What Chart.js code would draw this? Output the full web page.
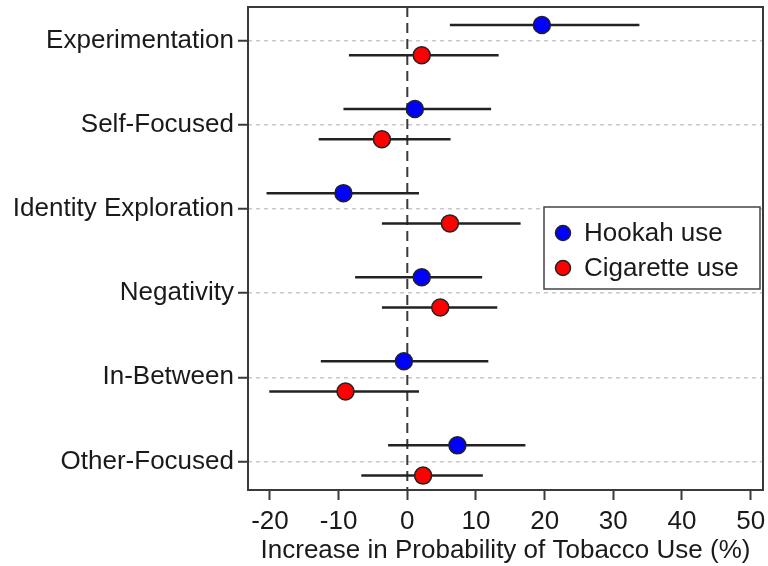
<!DOCTYPE html>
<html>
<head>
<meta charset="utf-8">
<script src="https://cdn.jsdelivr.net/npm/chart.js@4.4.1/dist/chart.umd.min.js"></script>
<style>
    html, body { margin: 0; padding: 0; background: #fff; }
    #wrap { width: 768px; height: 566px; }
</style>
</head>
<body>
<div id="wrap"><canvas id="chart" width="768" height="566"></canvas></div>
<script>
// categories, top to bottom
var categories = ['Experimentation', 'Self-Focused', 'Identity Exploration', 'Negativity', 'In-Between', 'Other-Focused'];

// Hookah use: estimate + 95% CI (%)
var hookahEst  = [19.6,  1.1,  -9.3,  2.1,  -0.5,  7.3];
var hookahLow  = [ 6.2, -9.3, -20.5, -7.6, -12.6, -2.8];
var hookahHigh = [33.8, 12.2,   1.7, 10.9,  11.8, 17.2];

// Cigarette use: estimate + 95% CI (%)
var cigEst  = [ 2.1,  -3.7,  6.2,  4.8,  -9.0,  2.3];
var cigLow  = [-8.5, -12.9, -3.7, -3.7, -20.1, -6.7];
var cigHigh = [13.3,   6.3, 16.5, 13.1,   1.7, 11.0];

var xTicks = [-20, -10, 0, 10, 20, 30, 40, 50];

// vertical offset of each series inside a category row
var HOOKAH_OFF = -0.19;
var CIG_OFF = 0.17;

var FONT = '"Liberation Sans", Arial, sans-serif';

function toPoints(est, off) {
    return est.map(function(v, i) { return { x: v, y: i + off }; });
}

// zero reference line
var zeroLine = {
    id: 'zeroLine',
    beforeDatasetsDraw: function(chart) {
        var ctx = chart.ctx, a = chart.chartArea;
        var x = chart.scales.x.getPixelForValue(0);
        ctx.save();
        ctx.strokeStyle = '#3a3a3a';
        ctx.lineWidth = 2;
        ctx.setLineDash([10, 6]);
        ctx.beginPath();
        ctx.moveTo(x, a.top);
        ctx.lineTo(x, a.bottom);
        ctx.stroke();
        ctx.restore();
    }
};

// horizontal CI bars, drawn under the points
var errorBars = {
    id: 'errorBars',
    beforeDatasetsDraw: function(chart) {
        var ctx = chart.ctx;
        var xs = chart.scales.x, ys = chart.scales.y;
        ctx.save();
        ctx.strokeStyle = '#222';
        ctx.lineWidth = 2.5;
        chart.data.datasets.forEach(function(ds) {
            ds.data.forEach(function(p, i) {
                var y = ys.getPixelForValue(p.y);
                ctx.beginPath();
                ctx.moveTo(xs.getPixelForValue(ds.errLow[i]), y);
                ctx.lineTo(xs.getPixelForValue(ds.errHigh[i]), y);
                ctx.stroke();
            });
        });
        ctx.restore();
    }
};

// plot frame + legend box
var frameLegend = {
    id: 'frameLegend',
    afterDraw: function(chart) {
        var ctx = chart.ctx, a = chart.chartArea;
        ctx.save();
        ctx.strokeStyle = '#3a3a3a';
        ctx.lineWidth = 2;
        ctx.strokeRect(a.left, a.top, a.right - a.left, a.bottom - a.top);

        var bx = a.right - 219, by = 207, bw = 216, bh = 82;
        ctx.fillStyle = '#fff';
        ctx.fillRect(bx, by, bw, bh);
        ctx.lineWidth = 1.5;
        ctx.strokeStyle = '#444';
        ctx.strokeRect(bx, by, bw, bh);

        ctx.font = '26px ' + FONT;
        ctx.textBaseline = 'middle';
        chart.data.datasets.forEach(function(ds, i) {
            var cy = by + 26 + i * 35;
            ctx.beginPath();
            ctx.arc(bx + 19, cy, 7.5, 0, Math.PI * 2);
            ctx.fillStyle = ds.pointBackgroundColor;
            ctx.fill();
            ctx.lineWidth = 1.5;
            ctx.strokeStyle = '#222';
            ctx.stroke();
            ctx.fillStyle = '#1a1a1a';
            ctx.fillText(ds.label, bx + 40, cy + 1);
        });
        ctx.restore();
    }
};

var ctx = document.getElementById('chart').getContext('2d');
var chart = new Chart(ctx, {
    type: 'scatter',
    data: {
        datasets: [
            {
                label: 'Hookah use',
                data: toPoints(hookahEst, HOOKAH_OFF),
                errLow: hookahLow,
                errHigh: hookahHigh,
                pointRadius: 8.5,
                pointBackgroundColor: '#0000ff',
                pointBorderColor: '#222',
                pointBorderWidth: 1.5
            },
            {
                label: 'Cigarette use',
                data: toPoints(cigEst, CIG_OFF),
                errLow: cigLow,
                errHigh: cigHigh,
                pointRadius: 8.5,
                pointBackgroundColor: '#ff0000',
                pointBorderColor: '#222',
                pointBorderWidth: 1.5
            }
        ]
    },
    options: {
        responsive: false,
        animation: false,
        events: [],
        devicePixelRatio: 1,
        layout: { autoPadding: false, padding: { top: 7, right: 5, left: 0, bottom: 0 } },
        plugins: {
            legend: { display: false },
            tooltip: { enabled: false }
        },
        scales: {
            x: {
                type: 'linear',
                min: -23.2,
                max: 51.8,
                afterBuildTicks: function(scale) {
                    scale.ticks = xTicks.map(function(v) { return { value: v }; });
                },
                afterFit: function(scale) {
                    scale.height = 76;
                    scale.paddingLeft = 0;
                    scale.paddingRight = 0;
                },
                grid: {
                    drawOnChartArea: false,
                    tickLength: 10,
                    tickColor: '#3a3a3a',
                    tickWidth: 2
                },
                border: { display: false },
                ticks: {
                    color: '#1a1a1a',
                    padding: 6,
                    font: { family: FONT, size: 26 }
                },
                title: {
                    display: true,
                    text: 'Increase in Probability of Tobacco Use (%)',
                    color: '#1a1a1a',
                    padding: { top: 0, bottom: 0 },
                    font: { family: FONT, size: 26 }
                }
            },
            y: {
                type: 'linear',
                reverse: true,
                min: -0.404,
                max: 5.341,
                afterBuildTicks: function(scale) {
                    scale.ticks = categories.map(function(c, i) { return { value: i }; });
                },
                afterFit: function(scale) {
                    scale.width = 248;
                    scale.paddingTop = 0;
                    scale.paddingBottom = 0;
                },
                grid: {
                    color: '#c8c8c8',
                    lineWidth: 1.5,
                    tickLength: 10,
                    tickColor: '#3a3a3a',
                    tickWidth: 2,
                    tickBorderDash: []
                },
                border: { display: false, dash: [4, 4] },
                ticks: {
                    color: '#1a1a1a',
                    padding: 4,
                    font: { family: FONT, size: 26 },
                    callback: function(value) { return categories[value]; }
                }
            }
        }
    },
    plugins: [zeroLine, errorBars, frameLegend]
});
</script>
</body>
</html>
